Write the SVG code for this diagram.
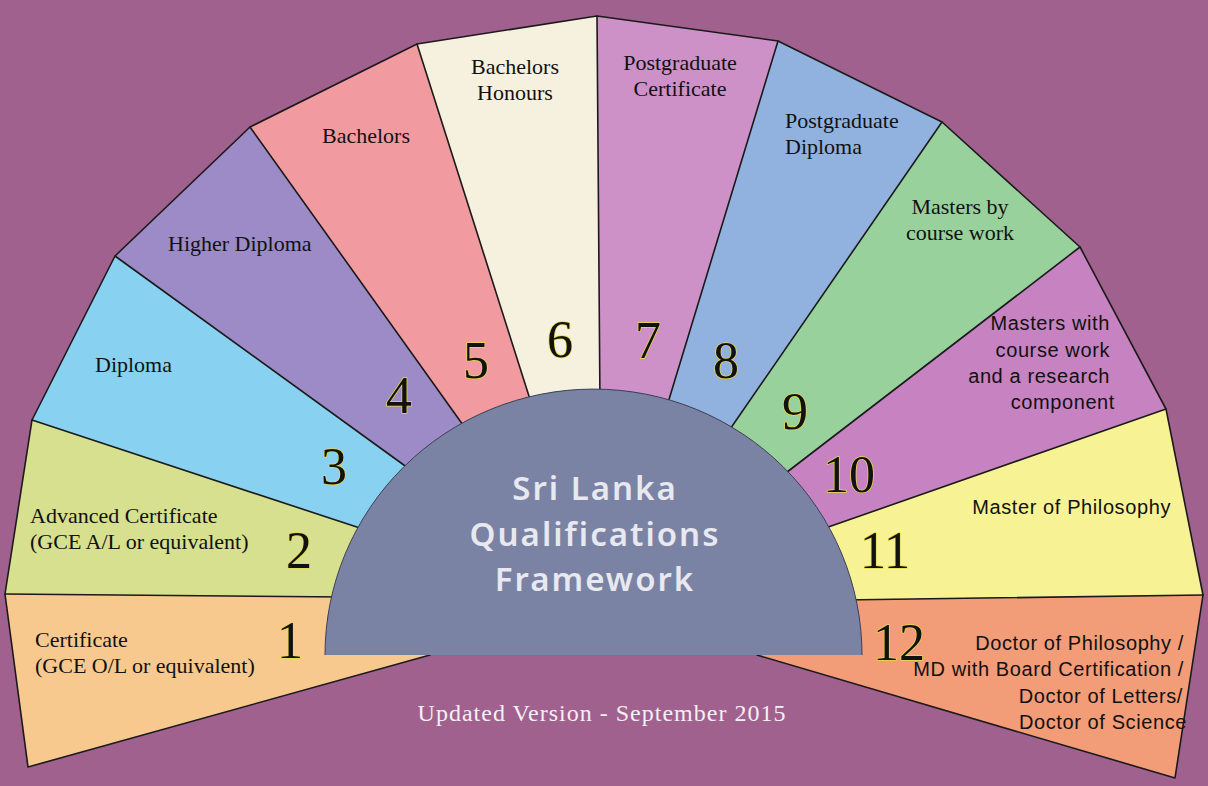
<svg xmlns="http://www.w3.org/2000/svg" width="1208" height="786" viewBox="0 0 1208 786">
<defs>
<style>
.seg{stroke:none}
.edge{fill:none;stroke:#1a1a1a;stroke-width:1.6;stroke-linejoin:round;stroke-linecap:round}
.lbl{font-family:"Liberation Serif",serif;font-size:22px;fill:#111}
.lbs{font-family:"Liberation Sans",sans-serif;font-size:20px;fill:#111;letter-spacing:0.6px}
.num{font-family:"Liberation Serif",serif;font-size:52px;fill:#111;stroke:#e9d94c;stroke-width:1.4;paint-order:stroke;text-anchor:middle}
.title{font-family:"Noto Sans",sans-serif;font-weight:600;font-size:33px;fill:#e8e8f0;text-anchor:middle;letter-spacing:2px}
.foot{font-family:"Liberation Serif",serif;font-size:24px;fill:#f4f0f4;text-anchor:middle;letter-spacing:1px}
.c{text-anchor:middle}
.r{text-anchor:end}
</style>
</defs>
<rect width="1208" height="786" fill="#a0618e"/>

<g id="level1"><polygon class="seg" fill="#f8c98f" points="28,767 5,594 345,597 335,655 430,655"/>
<text class="lbl" x="35" y="647">Certificate</text><text class="lbl" x="35" y="673">(GCE O/L or equivalent)</text></g>
<g id="level2"><polygon class="seg" fill="#d6e08f" points="5,594 32,420 372,532 345,597"/>
<text class="lbl" x="30" y="523">Advanced Certificate</text><text class="lbl" x="30" y="549">(GCE A/L or equivalent)</text></g>
<g id="level3"><polygon class="seg" fill="#88d1f1" points="32,420 115,256 419,476 372,532"/>
<text class="lbl" x="95" y="372">Diploma</text></g>
<g id="level4"><polygon class="seg" fill="#9c8bc6" points="115,256 250,127 473,439 419,476"/>
<text class="lbl" x="168" y="251">Higher Diploma</text></g>
<g id="level5"><polygon class="seg" fill="#f19ba1" points="250,127 417,44 535,415 473,439"/>
<text class="lbl" x="322" y="143">Bachelors</text></g>
<g id="level6"><polygon class="seg" fill="#f6f1de" points="417,44 597,16 600,406 535,415"/>
<text class="lbl c" x="515" y="74">Bachelors</text><text class="lbl c" x="515" y="100">Honours</text></g>
<g id="level7"><polygon class="seg" fill="#cd90c7" points="597,16 778,41 667,406 600,406"/>
<text class="lbl c" x="680" y="70">Postgraduate</text><text class="lbl c" x="680" y="96">Certificate</text></g>
<g id="level8"><polygon class="seg" fill="#91b1df" points="778,41 942,122 726,435 667,406"/>
<text class="lbl" x="785" y="128">Postgraduate</text><text class="lbl" x="785" y="154">Diploma</text></g>
<g id="level9"><polygon class="seg" fill="#98d19c" points="942,122 1080,247 778,479 726,435"/>
<text class="lbl c" x="960" y="214">Masters by</text><text class="lbl c" x="960" y="240">course work</text></g>
<g id="level10"><polygon class="seg" fill="#c682c1" points="1080,247 1166,409 814,532 778,479"/>
<text class="lbs r" x="1110" y="330">Masters with</text><text class="lbs r" x="1110" y="357">course work</text><text class="lbs r" x="1110" y="383">and a research</text><text class="lbs r" x="1115" y="409">component</text></g>
<g id="level11"><polygon class="seg" fill="#f7f395" points="1166,409 1203,595 842,600 814,532"/>
<text class="lbs r" x="1171" y="514">Master of Philosophy</text></g>
<g id="level12"><polygon class="seg" fill="#f29c78" points="1203,595 1175,778 757,655 852,655 842,600"/>
<text class="lbs r" x="1184" y="650">Doctor of Philosophy /</text><text class="lbs r" x="1184" y="676">MD with Board Certification /</text><text class="lbs r" x="1183" y="703">Doctor of Letters/</text><text class="lbs r" x="1187" y="729">Doctor of Science</text></g>

<g id="connectors">
<path class="edge" d="M430,655 L28,767 L5,594 L32,420 L115,256 L250,127 L417,44 L597,16 L778,41 L942,122 L1080,247 L1166,409 L1203,595 L1175,778 L757,655"/>
<path class="edge" d="M5,594 L345,597 M32,420 L372,532 M115,256 L419,476 M250,127 L473,439 M417,44 L535,415 M597,16 L600,406 M778,41 L667,406 M942,122 L726,435 M1080,247 L778,479 M1166,409 L814,532 M1203,595 L842,600"/>
</g>

<g id="centre">
<path d="M325,655 A268.5,266 0 0 1 862,655" fill="#7a83a3" stroke="#3c3f55" stroke-width="1"/>
<text class="title" x="595" y="500">Sri Lanka</text>
<text class="title" x="595" y="546">Qualifications</text>
<text class="title" x="595" y="591">Framework</text>
</g>

<g id="numbers">
<text class="num" x="290" y="658">1</text>
<text class="num" x="299" y="568">2</text>
<text class="num" x="334" y="484">3</text>
<text class="num" x="399" y="413">4</text>
<text class="num" x="476" y="378">5</text>
<text class="num" x="560" y="357">6</text>
<text class="num" x="648" y="358">7</text>
<text class="num" x="726" y="378">8</text>
<text class="num" x="795" y="429">9</text>
<text class="num" x="849" y="492">10</text>
<text class="num" x="885" y="568">11</text>
<text class="num" x="899" y="660">12</text>
</g>

<text class="foot" x="602" y="721">Updated Version - September 2015</text>
</svg>
